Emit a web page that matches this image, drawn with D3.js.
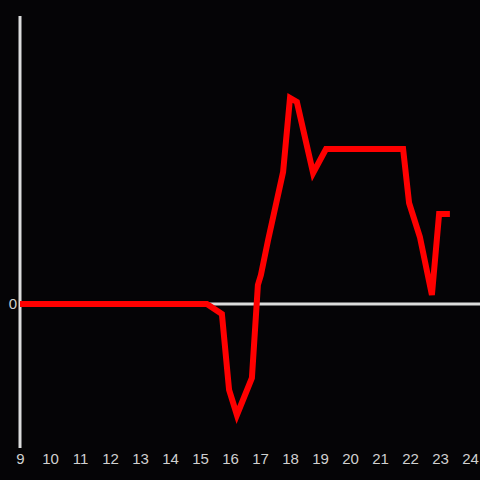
<!DOCTYPE html>
<html>
<head>
<meta charset="utf-8">
<script src="https://cdn.jsdelivr.net/npm/d3@7"></script>
<style>
  body { margin: 0; background: #050406; }
  svg { display: block; }
  .tick text { fill: #d0d0d0; font-family: "Liberation Sans", Arial, sans-serif; font-size: 15px; }
</style>
</head>
<body>
<svg id="chart" width="480" height="480"></svg>
<script>
// hours of the day and the value at each hour
var hours  = [9, 15.23, 15.73, 15.97, 16.23, 16.73, 16.93, 17.03, 17.27, 17.77, 18.0, 18.23, 18.77, 19.2, 21.77, 21.97, 22.33, 22.73, 22.97, 23.33];
var values = [0, 0, -10, -86, -111, -74, 19, 29, 64, 132, 206, 202, 131, 155, 155, 101, 67, 9, 90, 90];
var xTicks = d3.range(9, 25);

var svg = d3.select("#chart");

var x = d3.scaleLinear().domain([9, 24]).range([20, 470]);
var y = d3.scaleLinear().domain([-144, 288]).range([448, 16]);

// y axis line
svg.append("line")
  .attr("x1", x(9)).attr("x2", x(9))
  .attr("y1", y(288)).attr("y2", y(-144))
  .attr("stroke", "#dcdcdc").attr("stroke-width", 3);

// zero line
svg.append("line")
  .attr("x1", x(9)).attr("x2", 480)
  .attr("y1", y(0)).attr("y2", y(0))
  .attr("stroke", "#dcdcdc").attr("stroke-width", 3);

// x tick labels
var xAxis = svg.append("g")
  .attr("transform", "translate(0," + 453 + ")")
  .call(d3.axisBottom(x).tickValues(xTicks).tickSize(0).tickPadding(0).tickFormat(d3.format("d")));
xAxis.select(".domain").remove();

// y tick label (just 0)
var yAxis = svg.append("g")
  .attr("transform", "translate(" + 17 + ",0)")
  .call(d3.axisLeft(y).tickValues([0]).tickSize(0).tickPadding(0));
yAxis.select(".domain").remove();

// the series
var line = d3.line()
  .x(function(d, i) { return x(hours[i]); })
  .y(function(d) { return y(d); });

svg.append("path")
  .datum(values)
  .attr("d", line)
  .attr("fill", "none")
  .attr("stroke", "#ff0000")
  .attr("stroke-width", 6);
</script>
</body>
</html>
